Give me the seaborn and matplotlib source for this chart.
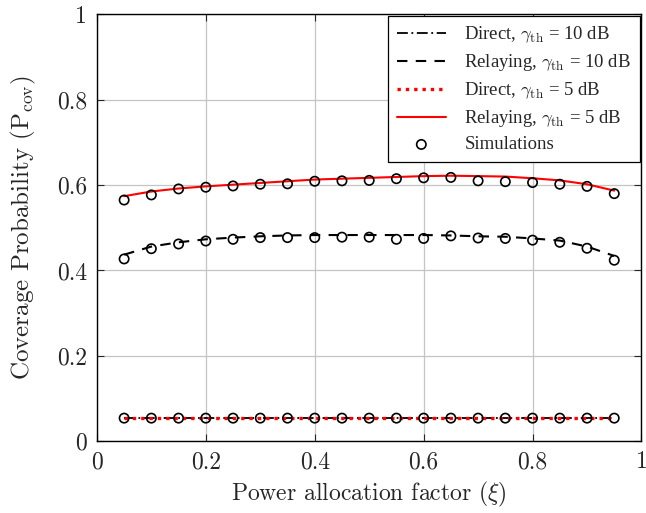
import numpy as np
import pandas as pd
import seaborn as sns
import matplotlib.pyplot as plt

xi = [0.05, 0.10, 0.15, 0.20, 0.25, 0.30, 0.35, 0.40, 0.45, 0.50,
      0.55, 0.60, 0.65, 0.70, 0.75, 0.80, 0.85, 0.90, 0.95]

# analytical curves
direct_10 = [0.054] * 19
relay_10 = [0.437, 0.456, 0.466, 0.473, 0.477, 0.480, 0.482, 0.483, 0.483, 0.483,
            0.483, 0.483, 0.482, 0.480, 0.479, 0.475, 0.470, 0.456, 0.434]
direct_5 = [0.055] * 19
relay_5 = [0.574, 0.585, 0.592, 0.597, 0.601, 0.605, 0.609, 0.613, 0.615, 0.617,
           0.619, 0.621, 0.622, 0.621, 0.620, 0.616, 0.611, 0.602, 0.587]

# simulation points
sim_relay_10 = [0.427, 0.451, 0.462, 0.469, 0.473, 0.477, 0.477, 0.477, 0.478, 0.478,
                0.473, 0.475, 0.481, 0.476, 0.475, 0.471, 0.466, 0.452, 0.424]
sim_relay_5 = [0.565, 0.577, 0.591, 0.595, 0.598, 0.602, 0.603, 0.609, 0.610, 0.611,
               0.615, 0.617, 0.618, 0.610, 0.608, 0.606, 0.602, 0.597, 0.580]
sim_direct = [0.054] * 19

sns.set_style("ticks")
plt.rcParams['font.family'] = ['Liberation Serif', 'DejaVu Serif']
plt.rcParams['mathtext.fontset'] = 'cm'

fig = plt.figure(figsize=(6.46, 5.13), dpi=100)
ax = fig.add_axes([0.150, 0.140, 0.843, 0.832])

sns.lineplot(x=xi, y=direct_10, ax=ax, color='black', lw=1.3, linestyle=(0, (6, 2, 1, 2)),
             label=r'Direct, $\gamma_{\rm th}$ = 10 dB')
sns.lineplot(x=xi, y=relay_10, ax=ax, color='black', lw=1.5, linestyle=(0, (5, 4)),
             label=r'Relaying, $\gamma_{\rm th}$ = 10 dB')
sns.lineplot(x=xi, y=direct_5, ax=ax, color='red', lw=2.4, linestyle=(0, (1, 1.5)),
             label=r'Direct, $\gamma_{\rm th}$ = 5 dB')
sns.lineplot(x=xi, y=relay_5, ax=ax, color='red', lw=1.5,
             label=r'Relaying, $\gamma_{\rm th}$ = 5 dB')

for ys, lab in [(sim_relay_10, None), (sim_relay_5, None), (sim_direct, 'Simulations')]:
    ax.scatter(xi, ys, s=45, facecolors='none', edgecolors='black', linewidths=1.2,
               zorder=5, label=lab)

ax.set_xlim(0, 1)
ax.set_ylim(0, 1)
ax.set_xticks([0, 0.2, 0.4, 0.6, 0.8, 1])
ax.set_yticks([0, 0.2, 0.4, 0.6, 0.8, 1])
ax.set_xticklabels(['0', '0.2', '0.4', '0.6', '0.8', '1'], fontfamily='cmr10', fontsize=17)
ax.set_yticklabels(['0', '0.2', '0.4', '0.6', '0.8', '1'], fontfamily='cmr10', fontsize=17)
ax.grid(True, color='#c4c4c4', lw=0.9)
ax.tick_params(direction='in', length=5, width=0.8, top=True, right=True)
ax.tick_params(axis='x', pad=7)
ax.tick_params(axis='y', pad=7)
for s in ax.spines.values():
    s.set_visible(True)
    s.set_color('black')
    s.set_linewidth(1.0)

ax.set_xlabel(r'Power allocation factor ($\xi$)', fontfamily='cmr10', fontsize=17, labelpad=5)
ax.set_ylabel(r'Coverage Probability (P$_{\rm cov}$)', fontfamily='cmr10', fontsize=18, labelpad=14)

leg = ax.legend(loc='upper right', fontsize=13.5, frameon=True, fancybox=False,
                edgecolor='black', framealpha=1, handlelength=2.6, handletextpad=1.0,
                labelspacing=0.38, borderaxespad=0.1, borderpad=0.45)
leg.get_frame().set_linewidth(0.9)

fig.savefig('out.png', dpi=100)
